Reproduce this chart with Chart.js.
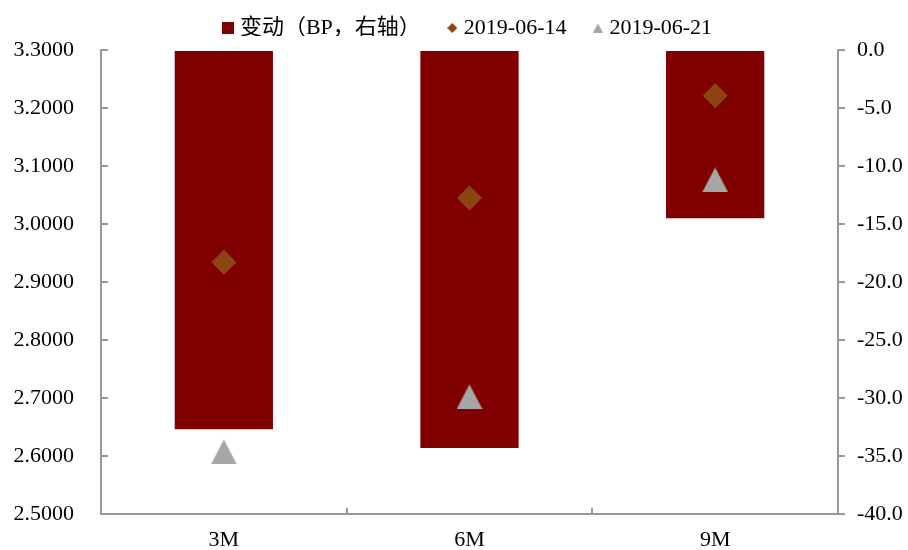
<!DOCTYPE html>
<html>
<head>
<meta charset="utf-8">
<script src="https://cdn.jsdelivr.net/npm/chart.js@4/dist/chart.umd.min.js"></script>
<style>
  html, body { margin: 0; padding: 0; background: #fff; }
  #wrap { width: 908px; height: 550px; }
</style>
</head>
<body>
<div id="wrap"><canvas id="chart"></canvas></div>
<script>
const tenors = ["3M", "6M", "9M"];
const changeBP = [-32.7, -34.3, -14.5];
const yield0614 = [2.934, 3.045, 3.221];
const yield0621 = [2.607, 2.702, 3.076];
const seriesNames = ["变动（BP，右轴）", "2019-06-14", "2019-06-21"];

const FONT = "'Liberation Serif', 'Times New Roman', 'Noto Sans CJK SC', serif";
const barColor = "#800000";
const diamondColor = "#8B4513";
const triColor = "#A6A6A6";
const axisColor = "#999999";

// small canvas icons (legend + triangle marker centred on its box)
const makeIcon = (w, h, draw) => {
  const c = document.createElement("canvas");
  c.width = w;
  c.height = h;
  draw(c.getContext("2d"), w, h);
  return c;
};
const drawTri = (color) => (ctx, w, h) => {
  ctx.fillStyle = color;
  ctx.beginPath();
  ctx.moveTo(w / 2, 0);
  ctx.lineTo(w, h);
  ctx.lineTo(0, h);
  ctx.fill();
};
const legendIcons = [
  makeIcon(12, 12, (ctx, w, h) => {
    ctx.fillStyle = barColor;
    ctx.fillRect(0, 0, w, h);
  }),
  makeIcon(10, 10, (ctx, w, h) => {
    ctx.fillStyle = diamondColor;
    ctx.beginPath();
    ctx.moveTo(w / 2, 0);
    ctx.lineTo(w, h / 2);
    ctx.lineTo(w / 2, h);
    ctx.lineTo(0, h / 2);
    ctx.fill();
  }),
  makeIcon(10, 9, drawTri(triColor)),
];
const triMarker = makeIcon(26, 25, drawTri(triColor));

// fixed legend box, nudged into place
const legendPlace = {
  id: "legendPlace",
  beforeInit(chart) {
    const origFit = chart.legend.fit;
    chart.legend.fit = function () {
      origFit.bind(chart.legend)();
      this.height = 50;
    };
  },
  afterLayout(chart) {
    const lg = chart.legend;
    lg.top -= 14;
    lg.bottom -= 14;
    lg.left += 16;
    lg.right += 16;
  },
};

// y axes: keep label padding from eating into the plot height
const fixYFit = (width) => (scale) => {
  scale.width = width;
  scale.paddingTop = 0;
  scale.paddingBottom = 0;
};

const ctx = document.getElementById("chart").getContext("2d");

window.bpChart = new Chart(ctx, {
  data: {
    labels: tenors,
    datasets: [
      {
        type: "bar",
        label: seriesNames[0],
        data: changeBP,
        yAxisID: "y1",
        backgroundColor: barColor,
        barPercentage: 0.4,
        categoryPercentage: 1,
        order: 3,
      },
      {
        type: "line",
        label: seriesNames[1],
        data: yield0614,
        yAxisID: "y",
        showLine: false,
        pointStyle: "rectRot",
        pointRadius: 12.5,
        pointBackgroundColor: diamondColor,
        pointBorderWidth: 0,
        backgroundColor: diamondColor,
        order: 2,
      },
      {
        type: "line",
        label: seriesNames[2],
        data: yield0621,
        yAxisID: "y",
        showLine: false,
        pointStyle: triMarker,
        pointRadius: 13,
        pointBackgroundColor: triColor,
        pointBorderWidth: 0,
        backgroundColor: triColor,
        order: 1,
      },
    ],
  },
  options: {
    responsive: true,
    maintainAspectRatio: false,
    animation: false,
    layout: { padding: 0 },
    plugins: {
      tooltip: { enabled: false },
      legend: {
        position: "top",
        labels: {
          usePointStyle: true,
          boxWidth: 1,
          boxHeight: 12,
          padding: 31,
          color: "#000",
          font: { family: FONT, size: 22 },
          sort: (a, b) => a.datasetIndex - b.datasetIndex,
          generateLabels: (chart) => {
            const items = Chart.defaults.plugins.legend.labels.generateLabels(chart);
            items.forEach((item) => {
              item.pointStyle = legendIcons[item.datasetIndex];
            });
            return items;
          },
        },
      },
    },
    scales: {
      x: {
        offset: true,
        grid: {
          offset: true,
          drawOnChartArea: false,
          drawTicks: true,
          tickLength: -6,
          color: axisColor,
          lineWidth: 2,
        },
        border: { color: axisColor, width: 2 },
        ticks: {
          color: "#000",
          padding: 19,
          font: { family: FONT, size: 22 },
        },
        afterFit: (scale) => {
          scale.height = 36;
        },
      },
      y: {
        position: "left",
        min: 2.5,
        max: 3.3,
        grid: {
          drawOnChartArea: false,
          drawTicks: true,
          tickLength: -7,
          color: axisColor,
          lineWidth: 2,
        },
        border: { color: axisColor, width: 2 },
        ticks: {
          stepSize: 0.1,
          color: "#000",
          padding: 34,
          font: { family: FONT, size: 22 },
          callback: (v) => Number(v).toFixed(4),
        },
        afterFit: fixYFit(101),
      },
      y1: {
        position: "right",
        min: -40,
        max: 0,
        grid: {
          drawOnChartArea: false,
          drawTicks: true,
          tickLength: 7,
          color: axisColor,
          lineWidth: 2,
        },
        border: { color: axisColor, width: 2 },
        ticks: {
          stepSize: 5,
          color: "#000",
          padding: 12,
          font: { family: FONT, size: 22 },
          callback: (v) => Number(v).toFixed(1),
        },
        afterFit: fixYFit(70),
      },
    },
  },
  plugins: [legendPlace],
});
</script>
</body>
</html>
